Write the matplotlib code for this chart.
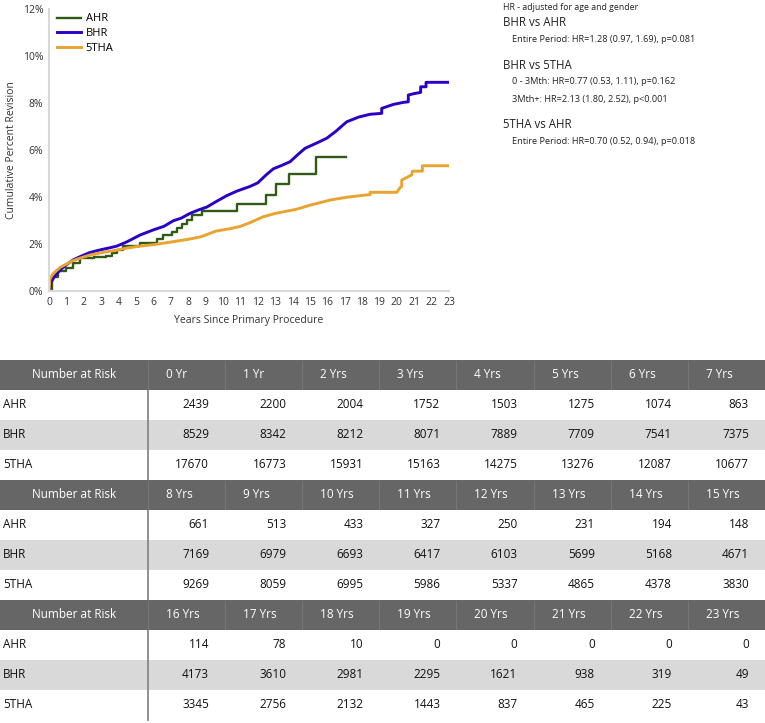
import matplotlib
matplotlib.use("Agg")
import matplotlib.pyplot as plt
from matplotlib.patches import Rectangle
from matplotlib.ticker import FuncFormatter

plt.rcParams['font.family'] = ['Open Sans', 'DejaVu Sans']

# ---------------- data ----------------
groups = ["AHR", "BHR", "5THA"]
colors = {"AHR": "#2f5b16", "BHR": "#2a00c8", "5THA": "#e8a331"}

# AHR: Kaplan-Meier step curve (post steps)
ahr_t = [0, 0.2, 0.5, 1.0, 1.4, 1.78, 2.6, 3.3, 3.6, 3.9, 4.27, 5.23, 6.19, 6.57, 7.05, 7.34,
         7.63, 7.92, 8.2, 8.78, 10.83, 12.46, 13.03, 13.8, 15.35, 17.06]
ahr_v = [0, 0.6, 0.85, 1.0, 1.19, 1.4, 1.43, 1.49, 1.6, 1.74, 1.91, 2.03, 2.2, 2.38, 2.52, 2.67,
         2.85, 3.02, 3.23, 3.42, 3.69, 4.09, 4.54, 4.96, 5.69, 5.69]

# BHR and 5THA: densely stepped curves, read as traced points (repeated time = vertical jump)
bhr_t = [0, 0.1, 0.3, 0.63, 1.0, 1.4, 1.9, 2.36, 3.0, 3.5, 3.9, 4.5, 5.23, 6.0, 6.6, 7.15, 7.6,
         8.1, 8.6, 9.07, 9.6, 10.2, 10.8, 11.56, 12.0, 12.5, 12.9, 13.4, 13.86, 14.3, 14.72, 15.4,
         15.97, 16.5, 17.12, 17.8, 18.46, 19.13, 19.13, 19.8, 20.4, 20.66, 20.66, 21.05, 21.37, 21.37,
         21.68, 21.68, 23.0]
bhr_v = [0, 0.35, 0.6, 0.89, 1.12, 1.33, 1.5, 1.64, 1.76, 1.84, 1.91, 2.1, 2.38, 2.6, 2.75, 2.99, 3.1,
         3.3, 3.45, 3.57, 3.8, 4.05, 4.25, 4.45, 4.6, 4.95, 5.2, 5.35, 5.5, 5.8, 6.07, 6.3,
         6.5, 6.8, 7.2, 7.4, 7.52, 7.56, 7.77, 7.94, 8.03, 8.05, 8.34, 8.41, 8.45, 8.69,
         8.69, 8.88, 8.88]

tha_t = [0, 0.05, 0.21, 0.63, 1.0, 1.4, 2.0, 2.36, 3.0, 3.9, 4.5, 5.23, 6.0, 7.15, 8.0, 8.7, 9.07,
         9.6, 10.4, 11.0, 11.56, 12.32, 13.0, 14.24, 15.0, 16.16, 17.12, 18.27, 18.46, 18.46, 19.99,
         20.2, 20.28, 20.28, 20.85, 20.9, 21.47, 21.47, 23.0]
tha_v = [0, 0.5, 0.72, 1.0, 1.15, 1.3, 1.45, 1.53, 1.63, 1.74, 1.83, 1.91, 1.97, 2.1, 2.2, 2.3, 2.4,
         2.55, 2.65, 2.75, 2.91, 3.16, 3.3, 3.48, 3.65, 3.87, 3.99, 4.09, 4.1, 4.2, 4.2,
         4.41, 4.45, 4.72, 4.94, 5.1, 5.1, 5.33, 5.33]

curves = {"AHR": (ahr_t, ahr_v), "BHR": (bhr_t, bhr_v), "5THA": (tha_t, tha_v)}
widths = {"AHR": 1.7, "BHR": 2.1, "5THA": 2.1}

x_ticks = list(range(0, 24))
y_ticks = [0, 2, 4, 6, 8, 10, 12]

hr_title = "HR - adjusted for age and gender"
hr_blocks = [
    ("BHR vs AHR", ["Entire Period: HR=1.28 (0.97, 1.69), p=0.081"]),
    ("BHR vs 5THA", ["0 - 3Mth: HR=0.77 (0.53, 1.11), p=0.162",
                     "3Mth+: HR=2.13 (1.80, 2.52), p<0.001"]),
    ("5THA vs AHR", ["Entire Period: HR=0.70 (0.52, 0.94), p=0.018"]),
]

risk_years = list(range(0, 24))
risk_labels = ["0 Yr", "1 Yr"] + [f"{y} Yrs" for y in risk_years[2:]]
risk_ahr = [2439, 2200, 2004, 1752, 1503, 1275, 1074, 863, 661, 513, 433, 327, 250, 231, 194, 148,
            114, 78, 10, 0, 0, 0, 0, 0]
risk_bhr = [8529, 8342, 8212, 8071, 7889, 7709, 7541, 7375, 7169, 6979, 6693, 6417, 6103, 5699, 5168, 4671,
            4173, 3610, 2981, 2295, 1621, 938, 319, 49]
risk_tha = [17670, 16773, 15931, 15163, 14275, 13276, 12087, 10677, 9269, 8059, 6995, 5986, 5337, 4865, 4378, 3830,
            3345, 2756, 2132, 1443, 837, 465, 225, 43]
risk = {"AHR": risk_ahr, "BHR": risk_bhr, "5THA": risk_tha}

# ---------------- figure ----------------
W, H = 765, 723
fig = plt.figure(figsize=(W / 100, H / 100), dpi=100)

axt = fig.add_axes([0, 0, 1, 1])
axt.set_xlim(0, W)
axt.set_ylim(H, 0)
axt.axis("off")

x0, x1, y0, y1 = 49, 449, 9, 291
ax = fig.add_axes([x0 / W, 1 - y1 / H, (x1 - x0) / W, (y1 - y0) / H])
for g in groups:
    t, v = curves[g]
    if g == "AHR":
        ax.step(t, v, where="post", color=colors[g], lw=widths[g], label=g)
    else:
        ax.plot(t, v, color=colors[g], lw=widths[g], label=g)
ax.set_xlim(0, 23)
ax.set_ylim(0, 12)
ax.set_xticks(x_ticks)
ax.set_yticks(y_ticks)
ax.yaxis.set_major_formatter(FuncFormatter(lambda v, p: f"{int(v)}%"))
for s in ["top", "right"]:
    ax.spines[s].set_visible(False)
for s in ["left", "bottom"]:
    ax.spines[s].set_color("#d9d9d9")
    ax.spines[s].set_linewidth(1.5)
ax.tick_params(axis="both", length=0, labelsize=7.5, colors="#333333", pad=4)
ax.set_xlabel("Years Since Primary Procedure", fontsize=7.5, color="#333333", labelpad=5)
ax.set_ylabel("Cumulative Percent Revision", fontsize=7.5, color="#333333", labelpad=4)
ax.legend(loc="upper left", bbox_to_anchor=(0.0, 1.012), frameon=False, fontsize=8,
          handlelength=2.2, handletextpad=0.4, labelspacing=0.32, borderaxespad=0.3)

# HR annotations
axt.text(503, 7, hr_title, fontsize=6.3, ha="left", va="center", color="#222222")
yy = 23
for title, lines in hr_blocks:
    axt.text(503, yy, title, fontsize=8.3, ha="left", va="center", color="#222222")
    yy += 16.5
    for ln in lines:
        axt.text(512, yy, ln, fontsize=6.6, ha="left", va="center", color="#222222")
        yy += 17
    yy += 9

# Number at risk tables
header_bg = "#666666"
band_bg = "#d9d9d9"
col0_w = 148
col_w = (W - col0_w) / 8
row_h = 30
block_tops = [360, 480, 600]
for b, top in enumerate(block_tops):
    yrs = risk_years[b * 8:(b + 1) * 8]
    labs = risk_labels[b * 8:(b + 1) * 8]
    axt.add_patch(Rectangle((0, top), W, row_h, color=header_bg, lw=0, zorder=2))
    for j in range(8):
        xs = col0_w + j * col_w
        axt.plot([xs, xs], [top + 1, top + row_h - 1], color="#7a7a7a", lw=0.6, zorder=3)
    axt.text(col0_w / 2, top + row_h / 2, "Number at Risk", color="white", fontsize=8.5,
             ha="center", va="center", zorder=4)
    for j, lab in enumerate(labs):
        axt.text(col0_w + j * col_w + 18, top + row_h / 2, lab, color="white", fontsize=8.5,
                 ha="left", va="center", zorder=4)
    for i, g in enumerate(groups):
        ry = top + row_h * (i + 1)
        if g == "BHR":
            axt.add_patch(Rectangle((0, ry), W, row_h, color=band_bg, lw=0, zorder=1))
        axt.text(3, ry + row_h / 2, g, fontsize=8.5, ha="left", va="center", color="#111111", zorder=4)
        for j, y in enumerate(yrs):
            axt.text(col0_w + (j + 1) * col_w - 16, ry + row_h / 2, str(risk[g][y]), fontsize=8.5,
                     ha="right", va="center", color="#111111", zorder=4)

axt.plot([col0_w, col0_w], [390, 720], color="#888888", lw=1.3, zorder=1.5)

fig.savefig("out.png", dpi=100)
